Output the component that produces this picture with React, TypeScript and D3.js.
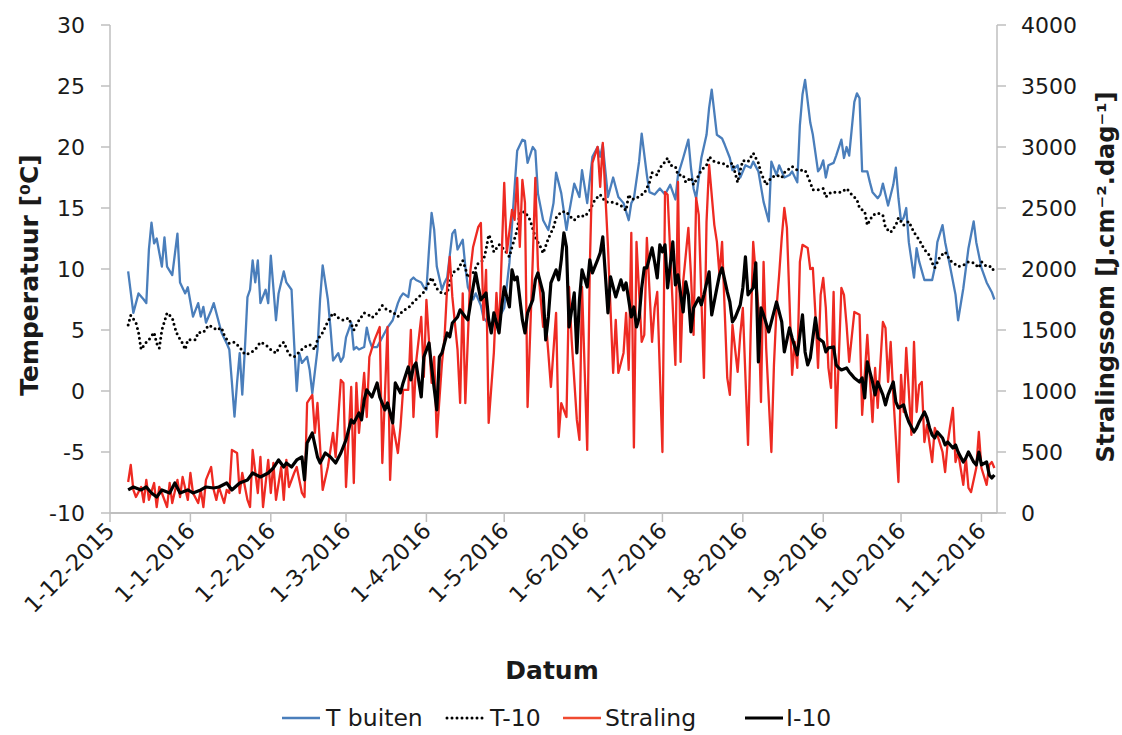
import React from "react";
import * as d3 from "d3";

// Day number = days after 1-12-2015 (daily measurements)
const startDate = new Date(2015, 11, 1);
const endDate = new Date(2016, 10, 7);

const leftTicks = [-10, -5, 0, 5, 10, 15, 20, 25, 30];
const rightTicks = [0, 500, 1000, 1500, 2000, 2500, 3000, 3500, 4000];

const legendLabels = ["T buiten", "T-10", "Straling", "I-10"];

// T buiten [°C]
const tBuiten: [number, number][] = [[7,9.8],[9,6.4],[11,8.0],[13,7.5],[14,7.2],[15,11.6],[16,13.8],[17,12.1],[18,12.5],[20,10.2],[21,12.6],[22,10.2],[24,9.5],[26,12.9],[27,8.9],[29,8.0],[30,8.5],[32,6.1],[34,7.2],[35,6.1],[36,6.9],[37,5.6],[39,6.6],[40,7.2],[42,5.6],[43,4.8],[45,3.9],[46,3.4],[47,0.7],[48,-2.1],[49,0.7],[50,3.1],[51,-0.3],[52,3.4],[53,7.7],[54,8.3],[55,10.7],[56,8.9],[57,10.7],[58,7.2],[60,8.3],[61,7.2],[62,11.1],[64,5.8],[65,8.0],[67,9.8],[68,8.9],[70,8.3],[71,3.9],[72,0.0],[73,3.1],[74,2.3],[76,2.8],[77,1.7],[78,-0.2],[80,3.4],[81,7.5],[82,10.3],[84,7.5],[85,5.2],[86,2.5],[88,3.1],[89,2.4],[90,2.8],[91,4.4],[93,5.6],[94,3.4],[95,3.6],[96,3.4],[98,3.6],[99,5.2],[100,4.2],[101,3.6],[103,3.6],[105,4.4],[107,5.2],[109,5.8],[111,7.2],[112,7.7],[113,8.0],[115,7.7],[116,9.1],[117,9.3],[118,9.1],[120,8.9],[121,8.5],[122,8.3],[123,11.6],[124,14.6],[125,13.2],[126,10.2],[128,8.3],[129,8.9],[130,9.3],[132,12.9],[133,13.2],[134,11.6],[136,12.4],[137,10.2],[138,8.5],[140,7.5],[141,8.0],[143,7.0],[144,6.0],[146,5.5],[147,5.0],[149,6.5],[150,6.0],[152,6.8],[154,10.5],[156,16.7],[157,19.7],[159,20.6],[160,20.5],[161,18.7],[163,20.0],[164,19.7],[165,16.2],[167,14.0],[169,13.2],[171,15.4],[172,17.9],[174,16.2],[176,13.2],[177,14.6],[179,17.0],[181,15.9],[182,18.1],[184,15.4],[186,19.2],[188,20.0],[189,19.2],[190,20.2],[192,15.9],[194,17.5],[196,15.9],[198,15.4],[200,14.0],[201,15.4],[202,15.8],[204,18.8],[205,21.1],[207,17.7],[208,16.3],[210,16.1],[212,16.6],[214,16.1],[216,16.9],[218,15.7],[219,17.7],[221,19.1],[223,20.6],[224,18.3],[225,16.6],[226,15.8],[228,19.1],[230,21.0],[231,23.2],[232,24.7],[234,21.0],[236,20.7],[237,20.2],[239,19.1],[240,18.1],[242,18.5],[243,17.5],[245,18.5],[247,18.3],[248,18.8],[250,18.0],[252,15.5],[254,13.9],[255,18.8],[257,17.7],[258,18.5],[260,17.5],[262,17.7],[263,18.0],[265,17.1],[266,21.8],[267,24.3],[268,25.5],[270,22.0],[271,21.0],[273,18.0],[274,18.3],[275,18.9],[276,17.5],[277,18.5],[279,18.7],[280,19.3],[282,20.6],[283,19.1],[284,20.0],[285,19.3],[287,23.7],[288,24.4],[289,24.0],[290,18.0],[292,18.0],[293,17.1],[294,16.3],[296,15.8],[297,16.1],[298,17.0],[300,15.2],[302,16.9],[303,18.3],[304,15.8],[305,13.9],[306,14.2],[307,15.0],[308,12.2],[310,9.3],[311,11.7],[312,10.6],[314,9.1],[317,9.1],[318,10.1],[319,12.2],[321,13.6],[322,12.2],[324,10.1],[326,7.9],[327,5.8],[329,8.4],[331,11.7],[333,13.9],[334,12.2],[336,10.1],[338,8.9],[340,8.1],[341,7.5]];

// T-10 [°C]
const t10: [number, number][] = [[7,5.4],[8,6.2],[10,5.6],[11,4.8],[12,3.4],[14,4.0],[15,4.2],[17,4.8],[18,3.9],[19,3.5],[20,5.0],[22,6.4],[24,6.0],[25,5.2],[26,4.6],[28,3.9],[29,3.4],[30,4.2],[33,4.2],[34,4.8],[36,4.8],[38,5.4],[40,5.2],[41,5.0],[43,5.2],[44,4.6],[46,3.9],[48,4.0],[50,3.6],[52,3.0],[54,3.1],[56,3.4],[58,4.0],[60,3.8],[62,3.4],[64,3.1],[66,3.9],[67,4.0],[69,3.0],[71,2.8],[73,3.2],[75,3.6],[77,3.8],[79,3.4],[80,4.2],[82,4.8],[84,5.7],[86,6.4],[88,6.0],[90,5.8],[92,6.0],[94,5.0],[96,5.8],[98,6.4],[100,6.2],[101,6.0],[103,6.4],[105,7.0],[107,6.6],[109,6.5],[111,6.1],[113,6.6],[115,6.8],[117,7.3],[119,7.7],[121,8.1],[123,8.9],[124,9.3],[126,8.4],[128,8.0],[130,8.0],[132,9.7],[134,9.9],[136,10.7],[137,10.1],[138,9.3],[140,9.7],[142,10.5],[144,10.7],[145,11.6],[146,12.8],[147,12.4],[148,11.4],[150,12.0],[152,11.6],[154,11.0],[155,11.8],[157,13.2],[158,14.6],[160,14.7],[162,14.0],[164,12.6],[166,11.8],[167,11.3],[169,12.5],[171,13.4],[172,14.2],[174,14.7],[176,14.7],[177,14.4],[179,14.0],[181,14.4],[183,14.3],[185,14.8],[187,15.7],[189,16.1],[191,15.5],[193,15.5],[195,15.4],[197,15.2],[199,14.8],[200,16.1],[201,15.7],[203,15.8],[205,16.1],[206,16.2],[208,17.1],[209,17.9],[211,17.7],[212,18.3],[213,18.5],[215,19.1],[216,18.5],[218,18.4],[219,17.7],[221,17.7],[222,17.1],[224,17.5],[225,16.9],[227,17.7],[228,18.1],[230,18.5],[231,19.2],[233,18.8],[235,18.7],[237,18.6],[238,18.4],[240,18.7],[241,17.9],[242,17.1],[243,18.1],[244,18.9],[246,18.8],[248,19.5],[250,18.7],[251,17.9],[253,16.9],[255,17.5],[257,17.7],[259,17.5],[260,17.9],[263,18.4],[265,18.1],[268,18.1],[270,17.1],[271,16.5],[273,16.5],[275,16.6],[276,15.9],[278,16.3],[280,16.3],[282,16.3],[284,16.6],[286,16.1],[288,15.7],[289,15.0],[291,14.7],[292,13.6],[294,14.4],[296,14.6],[298,14.4],[299,13.4],[301,13.0],[303,13.6],[304,14.2],[306,13.6],[308,13.9],[310,13.0],[312,12.4],[314,11.6],[316,11.1],[317,10.5],[318,10.1],[320,11.0],[322,11.4],[324,10.7],[327,10.2],[329,10.3],[331,10.6],[333,10.5],[335,10.1],[336,10.6],[338,10.2],[340,10.2],[341,9.7]];

// Straling [J.cm-2.dag-1]
const straling: [number, number][] = [[7,254],[8,394],[9,189],[10,131],[12,213],[13,90],[14,271],[15,107],[17,246],[18,49],[19,213],[20,164],[22,49],[23,246],[24,82],[26,271],[27,131],[28,295],[30,107],[31,328],[32,164],[34,82],[35,189],[36,49],[37,271],[39,377],[40,189],[41,107],[42,213],[44,82],[45,189],[46,164],[47,517],[49,492],[50,164],[51,328],[53,107],[54,49],[55,517],[57,164],[58,459],[59,49],[61,435],[62,164],[63,410],[64,107],[66,377],[67,107],[68,435],[69,213],[71,328],[72,377],[73,271],[74,164],[75,131],[76,902],[78,968],[79,656],[80,902],[82,189],[84,377],[86,656],[87,459],[89,1091],[90,1066],[91,213],[93,1033],[94,246],[95,1066],[96,656],[98,1148],[99,787],[100,1279],[102,1419],[104,1525],[105,410],[107,1525],[108,271],[109,738],[111,492],[112,705],[113,1009],[115,1009],[116,1501],[117,787],[118,1230],[120,1607],[121,1115],[122,1747],[124,1066],[125,1279],[126,623],[128,1230],[129,1443],[130,1853],[131,2099],[132,1771],[134,1337],[135,902],[136,1800],[137,900],[138,1443],[139,1993],[140,2181],[142,2345],[143,2378],[144,1583],[145,1993],[146,738],[148,1312],[149,1804],[150,1476],[152,2706],[153,2132],[155,2485],[156,2403],[157,2747],[158,2181],[159,2731],[160,2542],[161,869],[163,2075],[164,2747],[165,2017],[167,1525],[168,1583],[169,1312],[170,1033],[172,1640],[173,623],[174,900],[176,787],[177,1853],[178,1419],[180,763],[181,599],[182,1853],[184,517],[185,2017],[186,2870],[188,3001],[189,2673],[190,3034],[192,2181],[193,1665],[194,1148],[195,1583],[196,1148],[198,1312],[199,1640],[200,1173],[201,2296],[202,537],[203,2222],[205,1402],[206,1460],[207,2255],[209,1402],[210,1681],[211,1812],[213,500],[214,2632],[215,2608],[217,1681],[218,1214],[219,2714],[220,1238],[221,1894],[223,2337],[224,1952],[225,1460],[226,2583],[227,2444],[229,1107],[230,2386],[231,2854],[232,2608],[233,2362],[234,2222],[235,1952],[236,2222],[238,1107],[239,968],[240,1542],[242,1156],[243,1460],[244,1681],[246,558],[247,1460],[248,2222],[250,1681],[251,910],[252,2058],[253,1353],[255,500],[256,1214],[257,1681],[258,1952],[259,2255],[260,2501],[261,2337],[263,1132],[264,1402],[265,1189],[266,2058],[267,2198],[269,2173],[270,2000],[271,2009],[272,1624],[273,1189],[274,1788],[275,1927],[276,1681],[277,1189],[278,1025],[279,1812],[280,697],[282,1845],[283,1788],[284,1542],[285,1238],[287,1648],[289,1624],[290,804],[291,1132],[292,1460],[294,746],[295,1189],[296,861],[298,1566],[299,1517],[300,1074],[301,1402],[302,968],[304,254],[305,1132],[306,828],[307,1353],[309,640],[310,1402],[311,828],[312,1050],[313,1074],[314,582],[315,722],[317,418],[318,697],[319,640],[321,500],[322,336],[323,582],[325,861],[326,418],[327,500],[329,230],[330,451],[331,205],[332,172],[334,369],[335,664],[336,369],[338,230],[339,394],[340,418],[341,369]];

// I-10 [J.cm-2.dag-1]
const i10: [number, number][] = [[7,189],[9,213],[12,189],[14,213],[16,164],[18,131],[20,189],[23,164],[25,246],[27,164],[30,189],[32,164],[35,189],[37,213],[40,205],[42,213],[45,246],[47,189],[50,246],[53,271],[55,328],[58,295],[61,328],[63,369],[65,435],[67,377],[68,410],[70,377],[72,435],[74,459],[75,271],[76,574],[78,656],[80,459],[81,410],[83,492],[85,459],[87,410],[89,492],[91,599],[92,681],[93,763],[94,738],[96,820],[97,763],[98,927],[99,1009],[101,951],[103,1066],[104,951],[106,845],[107,902],[109,738],[110,1066],[112,984],[113,1066],[115,1197],[116,1091],[117,1197],[118,1230],[120,951],[121,1279],[123,1394],[124,1197],[126,845],[127,1279],[128,1312],[130,1476],[131,1443],[132,1558],[134,1607],[135,1665],[137,1607],[138,1583],[140,1853],[141,1968],[142,1853],[143,1747],[145,1804],[146,1583],[147,1476],[148,1640],[150,1476],[151,1689],[152,1853],[154,1689],[155,1993],[156,1911],[157,1935],[159,1583],[160,1476],[161,1640],[163,1747],[164,1911],[165,1968],[167,1804],[168,1419],[169,1607],[170,1886],[172,1993],[173,1911],[174,2075],[175,2296],[176,2181],[177,1525],[179,1804],[180,1312],[181,1747],[182,1993],[184,1853],[185,2075],[186,1968],[188,2075],[189,2132],[190,2263],[192,1640],[193,1935],[194,1853],[195,1771],[197,1911],[198,1829],[199,1886],[201,1607],[202,1689],[203,1525],[204,1600],[205,1845],[206,2009],[207,2009],[209,2173],[210,2058],[211,1927],[212,2198],[213,2140],[214,2198],[215,1845],[217,2222],[218,1870],[219,1952],[221,1648],[222,1894],[223,1788],[224,1484],[225,1681],[227,1763],[228,1706],[229,1788],[231,1976],[232,1624],[234,1845],[235,1952],[236,2009],[238,1812],[239,1730],[240,1566],[241,1599],[243,1706],[244,1845],[245,2099],[246,1788],[248,1845],[249,2050],[250,1238],[251,1681],[252,1624],[254,1484],[255,1566],[257,1730],[259,1566],[260,1320],[262,1517],[263,1435],[265,1296],[267,1624],[268,1320],[269,1214],[270,1271],[271,1435],[272,1599],[273,1435],[275,1402],[276,1320],[277,1353],[279,1361],[280,1214],[281,1189],[282,1173],[284,1189],[285,1156],[286,1132],[287,1107],[289,1074],[290,1107],[291,943],[292,1238],[294,1074],[295,968],[296,1074],[298,968],[299,886],[300,968],[302,1074],[303,910],[304,861],[306,886],[307,804],[308,746],[310,664],[311,697],[312,746],[314,828],[315,779],[316,697],[317,640],[318,615],[319,664],[321,615],[322,558],[323,582],[325,533],[326,558],[327,500],[329,418],[330,451],[331,500],[333,418],[334,394],[335,500],[336,394],[338,418],[339,312],[340,287],[341,312]];

const COLORS = { blue: "#4A7EBB", red: "#EE2A22", black: "#000000", axis: "#BFBFBF", text: "#1A1A1A" };
const FONT = "'DejaVu Sans', Verdana, sans-serif";

export default function App() {
  const W = 1122, H = 735;
  const plot = { left: 110, right: 997, top: 25, bottom: 513 };

  const x = d3.scaleTime().domain([startDate, endDate]).range([plot.left, plot.right]);
  const yL = d3.scaleLinear().domain([-10, 30]).range([plot.bottom, plot.top]);
  const yR = d3.scaleLinear().domain([0, 4000]).range([plot.bottom, plot.top]);
  const toDate = (d: number) => d3.timeDay.offset(startDate, d);

  const lineL = d3.line<[number, number]>().x(d => x(toDate(d[0]))).y(d => yL(d[1]));
  const lineR = d3.line<[number, number]>().x(d => x(toDate(d[0]))).y(d => yR(d[1]));

  const monthTicks = d3.timeMonth.range(startDate, d3.timeDay.offset(endDate, 1));
  const fmt = d3.timeFormat("%-d-%-m-%Y");

  const legendY = 718;
  const legendItems = [
    { label: legendLabels[0], x0: 282, tx: 326, color: COLORS.blue, dash: undefined as string | undefined, w: 2.5 },
    { label: legendLabels[1], x0: 447, tx: 490, color: COLORS.black, dash: "0 5", w: 3 },
    { label: legendLabels[2], x0: 563, tx: 605, color: "#F04A30", dash: undefined, w: 2.5 },
    { label: legendLabels[3], x0: 745, tx: 786, color: COLORS.black, dash: undefined, w: 3 },
  ];

  return (
    <div style={{ position: "absolute", left: 0, top: 0 }}>
      <svg width={W} height={H} style={{ display: "block", background: "#fff" }} fontFamily={FONT}>
        {/* axes lines */}
        <line x1={plot.left} x2={plot.left} y1={plot.top} y2={plot.bottom} stroke={COLORS.axis} strokeWidth={1.5} />
        <line x1={plot.right} x2={plot.right} y1={plot.top} y2={plot.bottom} stroke={COLORS.axis} strokeWidth={1.5} />
        <line x1={plot.left} x2={plot.right} y1={plot.bottom} y2={plot.bottom} stroke={COLORS.axis} strokeWidth={2} />

        {leftTicks.map(t => (
          <g key={"l" + t}>
            <line x1={plot.left - 9} x2={plot.left} y1={yL(t)} y2={yL(t)} stroke={COLORS.axis} strokeWidth={1.5} />
            <text x={85} y={yL(t)} dy="0.36em" textAnchor="end" fontSize={22} fill={COLORS.text}>{t}</text>
          </g>
        ))}
        {rightTicks.map(t => (
          <g key={"r" + t}>
            <line x1={plot.right} x2={plot.right + 9} y1={yR(t)} y2={yR(t)} stroke={COLORS.axis} strokeWidth={1.5} />
            <text x={1021} y={yR(t)} dy="0.36em" textAnchor="start" fontSize={22} fill={COLORS.text}>{t}</text>
          </g>
        ))}
        {monthTicks.map(d => (
          <g key={"x" + +d}>
            <line x1={x(d)} x2={x(d)} y1={plot.bottom} y2={plot.bottom + 9} stroke={COLORS.axis} strokeWidth={1.5} />
            <text transform={`translate(${x(d) + 6},${plot.bottom + 19}) rotate(-45)`} textAnchor="end" fontSize={22.5} fill={COLORS.text}>{fmt(d)}</text>
          </g>
        ))}

        {/* series */}
        <path d={lineL(tBuiten) || ""} fill="none" stroke={COLORS.blue} strokeWidth={2.3} strokeLinejoin="round" />
        <path d={lineL(t10) || ""} fill="none" stroke={COLORS.black} strokeWidth={3} strokeDasharray="0 5" strokeLinecap="round" />
        <path d={lineR(straling) || ""} fill="none" stroke={COLORS.red} strokeWidth={2.3} strokeLinejoin="round" />
        <path d={lineR(i10) || ""} fill="none" stroke={COLORS.black} strokeWidth={3.2} strokeLinejoin="round" />

        {/* axis titles */}
        <text transform={`translate(38,${(plot.top + plot.bottom) / 2 + 6}) rotate(-90)`} textAnchor="middle" fontSize={25} fontWeight="bold" fill={COLORS.text}>Temperatuur [⁰C]</text>
        <text transform={`translate(1114,${(plot.top + plot.bottom) / 2 + 8}) rotate(-90)`} textAnchor="middle" fontSize={24} fontWeight="bold" fill={COLORS.text}>Stralingssom [J.cm⁻².dag⁻¹]</text>
        <text x={552} y={679} textAnchor="middle" fontSize={25} fontWeight="bold" fill={COLORS.text}>Datum</text>

        {/* legend */}
        {legendItems.map(it => (
          <g key={it.label}>
            <line x1={it.x0} x2={it.x0 + 38} y1={legendY} y2={legendY} stroke={it.color} strokeWidth={it.w} strokeDasharray={it.dash} strokeLinecap={it.dash ? "round" : "butt"} />
            <text x={it.tx} y={legendY} dy="0.36em" fontSize={23.5} fill={COLORS.text}>{it.label}</text>
          </g>
        ))}
      </svg>
    </div>
  );
}
